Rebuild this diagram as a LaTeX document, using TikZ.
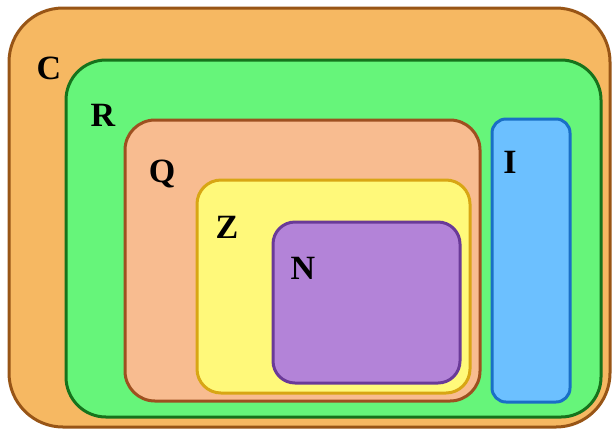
\documentclass[tikz,border=0pt]{standalone}
\usepackage{fontspec}
\setmainfont{Liberation Serif}
\usetikzlibrary{positioning}
\definecolor{cfill}{HTML}{F6B862}
\definecolor{cline}{HTML}{985516}
\definecolor{rfill}{HTML}{66F57A}
\definecolor{rline}{HTML}{16731C}
\definecolor{qfill}{HTML}{F8BC90}
\definecolor{qline}{HTML}{9E5020}
\definecolor{zfill}{HTML}{FFF97A}
\definecolor{zline}{HTML}{D8A614}
\definecolor{nfill}{HTML}{B383D8}
\definecolor{nline}{HTML}{6A3A98}
\definecolor{ifill}{HTML}{6CC0FF}
\definecolor{iline}{HTML}{1A6FC6}

\begin{document}
\begin{tikzpicture}[
  x=0.5pt, y=-0.5pt,
  setbox/.style={draw, line width=1.5pt, inner sep=0pt, outer sep=0pt},
  setlabel/.style={font=\fontsize{17}{20}\selectfont\bfseries, inner sep=0pt},
]
\useasboundingbox (0,0) rectangle (614,429);

% nested sets
\node[setbox, fill=cfill, draw=cline, rounded corners=27pt, minimum width=300.5pt, minimum height=209.5pt] (C) at (309.5, 217.5) {};
\node[setbox, fill=rfill, draw=rline, rounded corners=20pt, minimum width=267.5pt, minimum height=178.5pt] (R) at (333.5, 238.5) {};
\node[setbox, fill=qfill, draw=qline, rounded corners=15pt, minimum width=177.5pt, minimum height=140.5pt] (Q) at (302.5, 260.5) {};
\node[setbox, fill=zfill, draw=zline, rounded corners=12pt, minimum width=136.5pt, minimum height=106.5pt] (Z) at (333.5, 286.5) {};
\node[setbox, fill=nfill, draw=nline, rounded corners=11pt, minimum width=93.5pt, minimum height=80.5pt] (N) at (366.5, 302.5) {};
\node[setbox, fill=ifill, draw=iline, rounded corners=7pt, minimum width=39pt, minimum height=141.5pt] (I) at (531, 260.5) {};

% labels
\node[setlabel] (Clabel) at (49, 68) {C};
\node[setlabel] (Rlabel) at (103, 115) {R};
\node[setlabel] (Qlabel) at (162, 174) {Q};
\node[setlabel] (Zlabel) at (227, 227) {Z};
\node[setlabel] (Nlabel) at (303, 268) {N};
\node[setlabel] (Ilabel) at (510, 162) {I};

\end{tikzpicture}
\end{document}
